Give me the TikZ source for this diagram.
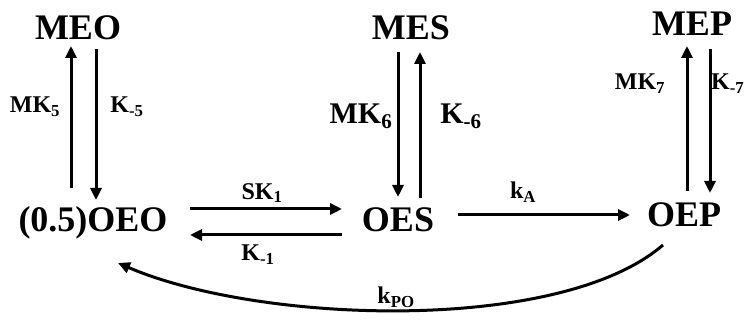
\documentclass[tikz,border=0pt]{standalone}
\usepackage{fontspec}
\setmainfont{Liberation Serif}
\usetikzlibrary{arrows.meta}

\begin{document}
\begin{tikzpicture}[
  x=1pt, y=1pt,
  species/.style={inner sep=0pt, anchor=base, font=\bfseries\fontsize{36}{40}\selectfont},
  rate/.style={inner sep=0pt, font=\bfseries\fontsize{24}{28}\selectfont},
  bigrate/.style={inner sep=0pt, font=\bfseries\fontsize{30}{34}\selectfont},
  rxn/.style={-{Triangle[length=12pt,width=11pt]}, line width=3pt}
]
\useasboundingbox (0,0) rectangle (748,320);
\node[species] (meo) at (78,280) {MEO};
\node[species] (mes) at (411,280) {MES};
\node[species] (mep) at (692,284) {MEP};
\node[species] (oeo) at (93,88) {(0.5)OEO};
\node[species] (oes) at (398,88) {OES};
\node[species] (oep) at (684,93) {OEP};
\node[rate] (mk5) at (35,213) {MK\textsubscript{5}};
\node[rate] (km5) at (127,213) {K\textsubscript{-5}};
\node[bigrate] (mk6) at (361,204) {MK\textsubscript{6}};
\node[bigrate] (km6) at (461,204) {K\textsubscript{-6}};
\node[rate] (mk7) at (640,236) {MK\textsubscript{7}};
\node[rate, anchor=west] (km7) at (711,236) {K\textsubscript{-7}};
\node[rate] (sk1) at (262,127) {SK\textsubscript{1}};
\node[rate] (km1) at (258,65) {K\textsubscript{-1}};
\node[rate] (ka) at (523,128) {k\textsubscript{A}};
\node[rate] (kpo) at (396,23) {k\textsubscript{PO}};
\draw[rxn] ([xshift=-22pt,yshift=44pt]oeo.base) -- ([xshift=-7pt,yshift=-6pt]meo.base);
\draw[rxn] ([xshift=18pt,yshift=-9pt]meo.base) -- ([xshift=3pt,yshift=32pt]oeo.base);
\draw[rxn] ([xshift=-13pt,yshift=-12pt]mes.base) -- ([yshift=35pt]oes.base);
\draw[rxn] ([xshift=22pt,yshift=34pt]oes.base) -- ([xshift=9pt,yshift=-12pt]mes.base);
\draw[rxn] ([xshift=3pt,yshift=36pt]oep.base) -- ([xshift=-5pt,yshift=-10pt]mep.base);
\draw[rxn] ([xshift=18pt,yshift=-13pt]mep.base) -- ([xshift=26pt,yshift=34pt]oep.base);
\draw[rxn] ([xshift=97pt,yshift=23pt]oeo.base) -- ([xshift=-56pt,yshift=23pt]oes.base);
\draw[rxn] ([xshift=-56pt,yshift=-3pt]oes.base) -- ([xshift=97pt,yshift=-3pt]oeo.base);
\draw[rxn] ([xshift=60pt,yshift=17pt]oes.base) -- ([xshift=-54pt,yshift=12pt]oep.base);
\draw[rxn] ([xshift=-21pt,yshift=-18pt]oep.base) .. controls (560,-14) and (260,-4) .. ([xshift=25pt,yshift=-31pt]oeo.base);
\end{tikzpicture}
\end{document}
